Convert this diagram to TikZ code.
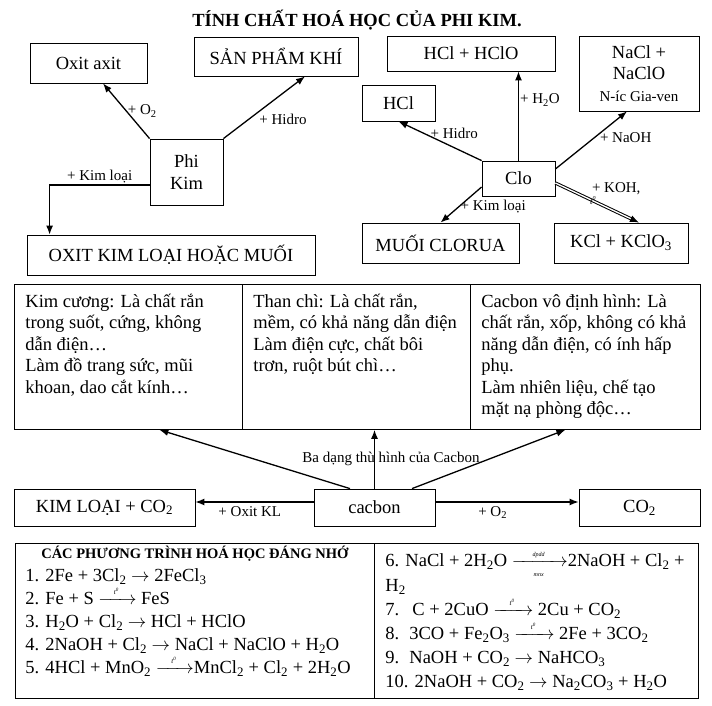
\RequirePackage{fix-cm}
\documentclass[tikz,border=0pt]{standalone}
\usepackage{amsmath}
\usepackage{fontspec}
\setmainfont{Liberation Serif}
\usetikzlibrary{positioning, arrows.meta, calc}
\tikzset{every picture/.append style={thick}}

\newcommand{\tarrow}[1][28pt]{$\xrightarrow{\makebox[#1]{\fontsize{7}{7}\selectfont\itshape t\textsuperscript{0}}}$}
\newcommand{\dparrow}{$\xrightarrow[{\makebox[46pt]{\fontsize{6}{6}\selectfont\itshape mnx}}]{\makebox[46pt]{\fontsize{6}{6}\selectfont\itshape dpdd}}$}
\newcommand{\csub}[1]{\textsubscript{#1}}

\begin{document}
\begin{tikzpicture}[x=1pt, y=-1pt, thick,
    font=\fontsize{18.5}{21.5}\selectfont,
    box/.style={draw, line width=0.8pt, rectangle, inner sep=2pt, align=center},
    cell/.style={draw, line width=0.8pt, anchor=north west, minimum height=145, inner xsep=11pt, inner ysep=4pt},
    eqbox/.style={draw, line width=0.8pt, anchor=north west, minimum height=155, inner xsep=10pt, inner ysep=3pt},
    lbl/.style={font=\fontsize{15}{17}\selectfont, inner sep=1pt},
    arr/.style={-{Latex[length=9pt,width=7pt]}, line width=1.3pt}]

    \useasboundingbox (0,0) rectangle (712,706);

    % Title
    \node[font=\fontsize{18.5}{21}\selectfont\bfseries] (title) at (357,20) {TÍNH CHẤT HOÁ HỌC CỦA PHI KIM.};

    % Phi kim
    \node[box, minimum width=117, minimum height=40] (oxitaxit) at (88.5,63) {Oxit axit};
    \node[box, minimum width=164, minimum height=39] (sanpham) at (276,56.5) {SẢN PHẨM KHÍ};
    \node[box, minimum width=73, minimum height=66] (phikim) at (186.5,172) {Phi\\Kim};
    \node[box, minimum width=288, minimum height=40] (oxitkl) at (171,255) {OXIT KIM LOẠI HOẶC MUỐI};

    \draw[arr] (phikim.north west) -- ([xshift=14.5pt]oxitaxit.south) node[lbl, pos=.5, right] (lo2) {+ O\csub{2}};
    \draw[arr] (phikim.north east) -- ([xshift=29pt]sanpham.south) node[lbl, pos=.42, anchor=north west] (lhidro) {+ Hidro};
    \draw[arr] ([yshift=-13pt]phikim.west) -| ([xshift=23pt]oxitkl.north west) node[lbl, pos=.25, above] (lkimloai) {+ Kim loại};

    % Clo
    \node[box, minimum width=168, minimum height=35] (hclhclo) at (471,53.5) {HCl + HClO};
    \node[box, minimum width=120, minimum height=75] (nacl) at (639,73.5) {NaCl +\\NaClO\\{\fontsize{15}{18}\selectfont N-íc Gia-ven}};
    \node[box, minimum width=73, minimum height=36] (hcl) at (398.5,103) {HCl};
    \node[box, minimum width=73, minimum height=35] (clo) at (518.5,178.5) {Clo};
    \node[box, minimum width=157, minimum height=40] (muoi) at (440.5,243) {MUỐI CLORUA};
    \node[box, minimum width=134, minimum height=40] (kcl) at (621,243) {KCl + KClO\csub{3}};

    \draw[arr] (clo.north) -- (clo.north |- hclhclo.south) node[lbl, pos=.68, right] (lh2o) {+ H\csub{2}O};
    \draw[arr] (clo.north west) -- (hcl.south) node[lbl, pos=.33, above=7pt] (lhidroclo) {+ Hidro};
    \draw[arr] ([yshift=9.5pt]clo.east) -- ([xshift=-12pt]nacl.south) node[lbl, pos=.6, anchor=west, yshift=-3pt] (lnaoh) {+ NaOH};
    \draw[arr] ([yshift=-8.5pt]clo.west) -- (muoi.north) node[lbl, pos=.55, anchor=west] (lkimloaiclo) {+ Kim loại};
    \draw[arr, double, double distance=1.3pt, line width=1pt] ([yshift=-4.5pt]clo.east) -- ([xshift=18pt]kcl.north)
        node[lbl, pos=.42, anchor=south west, yshift=3pt] (lkoh) {+ KOH,}
        node[pos=.45, font=\fontsize{9}{9}\selectfont\itshape, inner sep=0pt] (lt) {t\textsuperscript{0}};

    % Ba dang thu hinh
    \node[cell, minimum width=228] (kimcuong) at (14,284) {\parbox[t][137pt][t]{206pt}{\rule{0pt}{19pt}Kim cương: Là chất rắn\\ trong suốt, cứng, không\\ dẫn điện…\\ Làm đồ trang sức, mũi\\ khoan, dao cắt kính…}};
    \node[cell, minimum width=228] (thanchi) at (242,284) {\parbox[t][137pt][t]{206pt}{\rule{0pt}{19pt}Than chì: Là chất rắn,\\ mềm, có khả năng dẫn điện\\ Làm điện cực, chất bôi\\ trơn, ruột bút chì…}};
    \node[cell, minimum width=230] (vodinh) at (470,284) {\parbox[t][137pt][t]{208pt}{\rule{0pt}{19pt}Cacbon vô định hình: Là\\ chất rắn, xốp, không có khả\\ năng dẫn điện, có ính hấp\\ phụ.\\ Làm nhiên liệu, chế tạo\\ mặt nạ phòng độc…}};

    % Cacbon
    \node[box, minimum width=181, minimum height=37] (kimloai) at (104.5,507.5) {KIM LOẠI + CO\csub{2}};
    \node[box, minimum width=121, minimum height=37] (cacbon) at (374.5,507.5) {cacbon};
    \node[box, minimum width=121, minimum height=37] (co2) at (639.5,507.5) {CO\csub{2}};

    \draw[arr] (cacbon.north) -- (cacbon.north |- thanchi.south) node[lbl, pos=.5, xshift=16.5pt] (badang) {Ba dạng thù hình của Cacbon};
    \draw[arr] ([xshift=-24.5pt]cacbon.north) -- ([xshift=31pt]kimcuong.south);
    \draw[arr] ([xshift=37.5pt]cacbon.north) -- ([xshift=-20pt]vodinh.south);
    \draw[arr] ([yshift=5.5pt]cacbon.west) -- ([yshift=5.5pt]kimloai.east) node[lbl, pos=.54, below=3pt] (loxitkl) {+ Oxit KL};
    \draw[arr] ([yshift=5.5pt]cacbon.east) -- ([yshift=5.5pt]co2.west) node[lbl, pos=.4, below=3pt] (lo2c) {+ O\csub{2}};

    % Phuong trinh
    \node[eqbox, minimum width=359] (ptleft) at (15,543) {\parbox[t][149pt][t]{339pt}{%
        {\centering\fontsize{14.5}{17}\selectfont\bfseries CÁC PHƯƠNG TRÌNH HOÁ HỌC ĐÁNG NHỚ\par}
        \fontsize{18.5}{23}\selectfont\raggedright
        \makebox[20pt][l]{1.}2Fe + 3Cl\csub{2} $\rightarrow$ 2FeCl\csub{3}\\
        \makebox[20pt][l]{2.}Fe + S \tarrow{} FeS\\
        \makebox[20pt][l]{3.}H\csub{2}O + Cl\csub{2} $\rightarrow$ HCl + HClO\\
        \makebox[20pt][l]{4.}2NaOH + Cl\csub{2} $\rightarrow$ NaCl + NaClO + H\csub{2}O\\
        \makebox[20pt][l]{5.}4HCl + MnO\csub{2} \tarrow{}MnCl\csub{2} + Cl\csub{2} + 2H\csub{2}O}};
    \node[eqbox, minimum width=324, inner xsep=11pt] (ptright) at (374,543) {\parbox[t][149pt][t]{302pt}{%
        \fontsize{18.5}{24}\selectfont\raggedright
        \rule{0pt}{20pt}6. NaCl + 2H\csub{2}O \dparrow{}2NaOH + Cl\csub{2} +\\
        H\csub{2}\\
        \makebox[27pt][l]{7.}C + 2CuO \tarrow[30pt]{} 2Cu + CO\csub{2}\\
        \makebox[24pt][l]{8.}3CO + Fe\csub{2}O\csub{3} \tarrow[30pt]{} 2Fe + 3CO\csub{2}\\
        \makebox[24pt][l]{9.}NaOH + CO\csub{2} $\rightarrow$ NaHCO\csub{3}\\
        10. 2NaOH + CO\csub{2} $\rightarrow$ Na\csub{2}CO\csub{3} + H\csub{2}O}};
\end{tikzpicture}
\end{document}
